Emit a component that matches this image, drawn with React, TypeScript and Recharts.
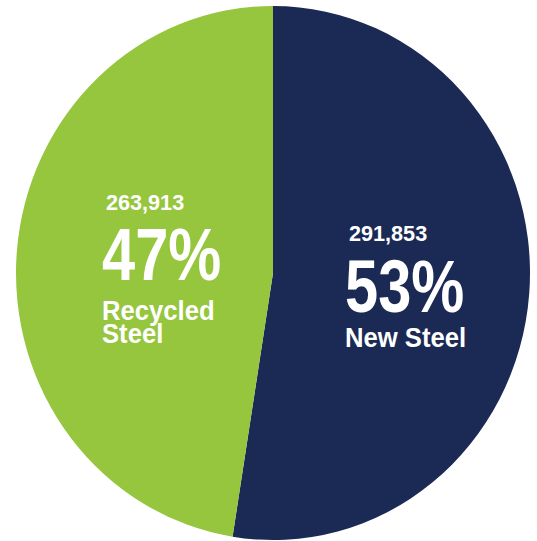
import { PieChart, Pie, Cell } from "recharts";

const names = ["New Steel", "Recycled Steel"];
const nameLines = [["New Steel"], ["Recycled", "Steel"]];
const tonnes = [291853, 263913];
const colors = ["#1B2A55", "#95C63D"];

const data = names.map((name, i) => ({ name, value: tonnes[i], lines: nameLines[i] }));

const FONT = "'Liberation Sans', Arial, Helvetica, sans-serif";

// per-slice text block placement relative to the pie centre
const blocks = [
  { dx: 72, num: -31, pct: 38, name: 71, lineGap: 22 },
  { dx: -171, num: -61, pct: 7, name: 45, lineGap: 22 },
];

function Line({ x, y, size, sx, children }: any) {
  return (
    <text transform={`translate(${x},${y}) scale(${sx},1)`} x={0} y={0} fontSize={size}>
      {children}
    </text>
  );
}

function renderLabel(props: any) {
  const { cx, cy, index, value, percent, payload } = props;
  const b = blocks[index];
  const x = cx + b.dx;
  const lines: string[] = payload.lines ?? payload.payload?.lines ?? [];
  return (
    <g fill="#fff" fontFamily={FONT} fontWeight={700}>
      <Line x={x + 4} y={cy + b.num} size={21} sx={1.03}>
        {Number(value).toLocaleString("en-US")}
      </Line>
      <Line x={x} y={cy + b.pct} size={71} sx={0.84}>
        {Math.round(percent * 100)}%
      </Line>
      {lines.map((l, i) => (
        <Line key={l} x={x} y={cy + b.name + i * b.lineGap} size={27} sx={0.95}>
          {l}
        </Line>
      ))}
    </g>
  );
}

export default function App() {
  return (
    <div
      style={{
        position: "absolute",
        left: 0,
        top: 0,
        width: 537,
        height: 541,
        overflow: "hidden",
        background: "#fff",
      }}
    >
      <div style={{ transform: "scaleY(1.039)", transformOrigin: "273px 273px" }}>
        <PieChart width={537} height={541} margin={{ top: 0, right: 0, bottom: 0, left: 0 }}>
          <Pie
            data={data}
            dataKey="value"
            nameKey="name"
            cx={273}
            cy={273}
            outerRadius={257}
            startAngle={90}
            endAngle={-270}
            stroke="none"
            label={renderLabel}
            labelLine={false}
            isAnimationActive={false}
          >
            {data.map((d, i) => (
              <Cell key={d.name} fill={colors[i]} />
            ))}
          </Pie>
        </PieChart>
      </div>
    </div>
  );
}
